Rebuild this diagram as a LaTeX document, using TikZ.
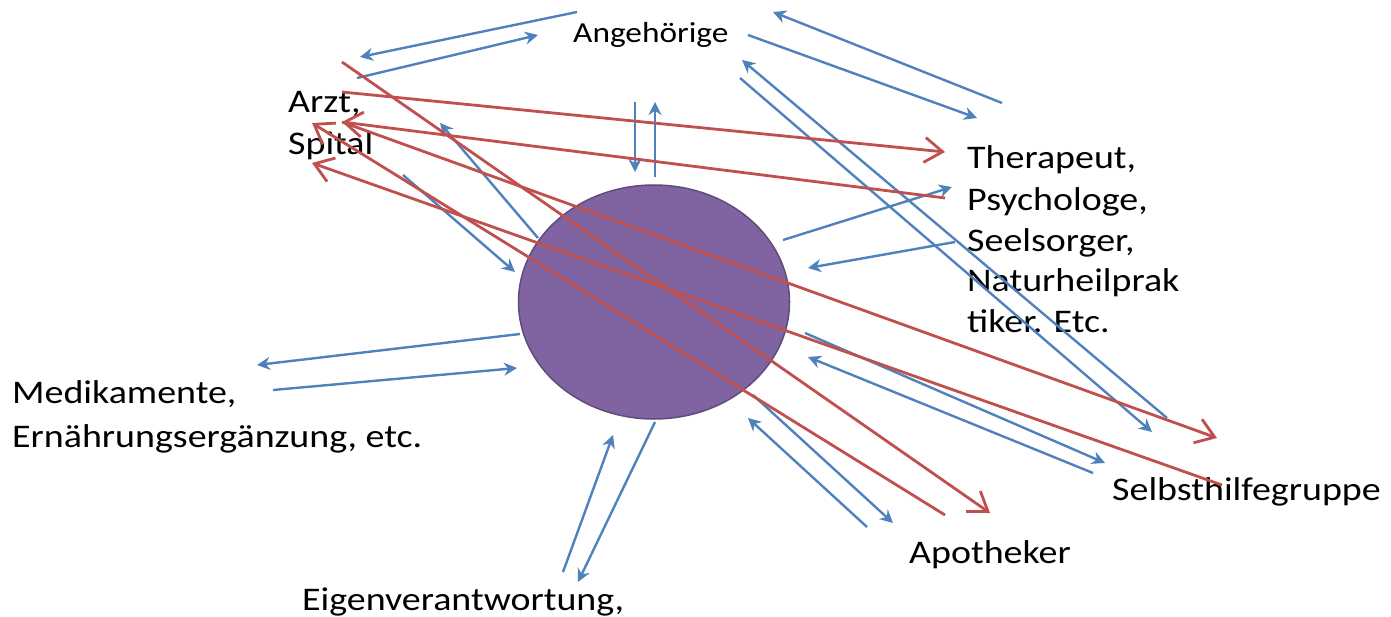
\documentclass[tikz,border=0pt]{standalone}
\usepackage{fontspec}
\setmainfont{Carlito}[FakeStretch=1.15]
\usetikzlibrary{arrows.meta,shapes.geometric,positioning}
\definecolor{lila}{RGB}{128,100,162}
\definecolor{lilarand}{RGB}{96,75,125}
\definecolor{pfeilblau}{RGB}{79,129,189}
\definecolor{pfeilrot}{RGB}{192,80,77}

\begin{document}
\begin{tikzpicture}[x=1pt,y=-1pt,
   lbl/.style={anchor=base west,inner sep=0pt,align=left,font=\fontsize{33}{42}\selectfont},
   hin/.style={pfeilblau,line width=2.4pt,-{Stealth[length=13pt,width=13pt]}},
   quer/.style={pfeilrot,line width=2.8pt,-{Straight Barb[length=18pt,width=25pt]}}]
   \useasboundingbox (0,0) rectangle (1391,617);
   \node [ellipse,fill=lila,draw=lilarand,line width=1.5pt,minimum width=271pt,minimum height=234pt,inner sep=0pt] (ich) at (654,302) {};
   \node [lbl,font=\fontsize{29}{36}\selectfont] (angeh) at (573,43) {Angehörige};
   \node [lbl] (arzt) at (288,155) {Arzt,\\Spital};
   \node [lbl,font=\fontsize{33}{41}\selectfont] (ther) at (967,333) {Therapeut,\\Psychologe,\\Seelsorger,\\Naturheilprak\\tiker. Etc.};
   \node [lbl,font=\fontsize{33}{44}\selectfont] (medi) at (12,447) {Medikamente,\\Ernährungsergänzung, etc.};
   \node [lbl] (eigen) at (302,610) {Eigenverantwortung,};
   \node [lbl] (apo) at (909,563) {Apotheker};
   \node [lbl] (selbst) at (1112,500) {Selbsthilfegruppe};

   % blaue Pfeile, immer paarweise
   \coordinate (b1_1) at (577,12);   \coordinate (b1_2) at (360,57);
   \coordinate (b1_3) at (357,78);   \coordinate (b1_4) at (538,35);
   \coordinate (b2_1) at (1002,103); \coordinate (b2_2) at (773,12);
   \coordinate (b2_3) at (748,35);   \coordinate (b2_4) at (977,118);
   \coordinate (b3_1) at (1167,418); \coordinate (b3_2) at (742,60);
   \coordinate (b3_3) at (740,78);   \coordinate (b3_4) at (1152,432);
   \coordinate (b4_1) at (635,102);  \coordinate (b4_2) at (635,172);
   \coordinate (b4_3) at (655,177);  \coordinate (b4_4) at (655,102);
   \coordinate (b5_1) at (538,238);  \coordinate (b5_2) at (440,123);
   \coordinate (b5_3) at (403,175);  \coordinate (b5_4) at (515,272);
   \coordinate (b6_1) at (783,240);  \coordinate (b6_2) at (952,187);
   \coordinate (b6_3) at (955,242);  \coordinate (b6_4) at (808,268);
   \coordinate (b7_1) at (520,334);  \coordinate (b7_2) at (257,365);
   \coordinate (b7_3) at (273,390);  \coordinate (b7_4) at (517,368);
   \coordinate (b8_1) at (563,572);  \coordinate (b8_2) at (613,435);
   \coordinate (b8_3) at (655,422);  \coordinate (b8_4) at (578,582);
   \coordinate (b9_1) at (867,527);  \coordinate (b9_2) at (748,418);
   \coordinate (b9_3) at (753,395);  \coordinate (b9_4) at (893,523);
   \coordinate (b10_1) at (1093,473); \coordinate (b10_2) at (808,357);
   \coordinate (b10_3) at (805,333);  \coordinate (b10_4) at (1105,463);
   \foreach \i in {1,...,10}
      \path[hin] (b\i_1) edge (b\i_2) (b\i_3) edge (b\i_4);

   % rote Pfeile quer durch
   \coordinate (r_arzt1) at (342,62);  \coordinate (r_arzt2) at (342,92);
   \coordinate (r_arzt3) at (342,122); \coordinate (r_arzt4) at (312,123);
   \coordinate (r_arzt5) at (312,163);
   \coordinate (r_ther1) at (945,152); \coordinate (r_ther2) at (945,198);
   \coordinate (r_selb1) at (1217,438); \coordinate (r_selb2) at (1222,485);
   \coordinate (r_apo1) at (990,513);  \coordinate (r_apo2) at (945,515);
   \path[quer]
    (r_arzt1) edge (r_apo1)
    (r_arzt2) edge (r_ther1)
    (r_ther2) edge (r_arzt3)
    (r_arzt3) edge (r_selb1)
    (r_selb2) edge (r_arzt5)
    (r_apo2)  edge (r_arzt4);
\end{tikzpicture}
\end{document}
